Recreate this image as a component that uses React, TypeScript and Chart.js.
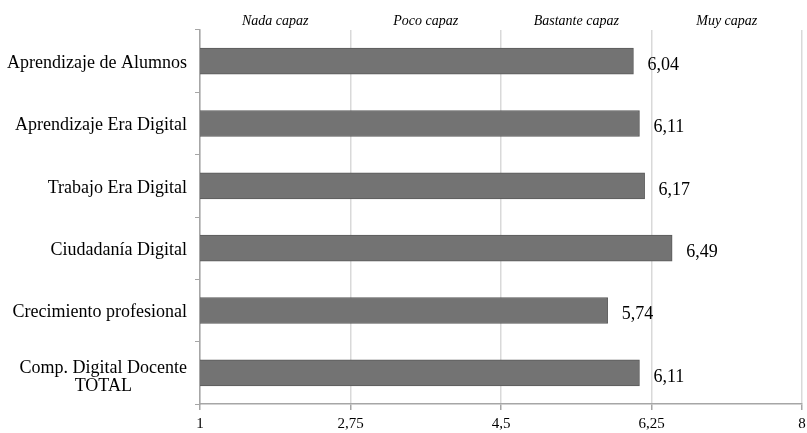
import React, { useEffect, useRef } from "react";
import { Chart, registerables } from "chart.js";

Chart.register(...registerables);

const categories: (string | string[])[] = [
  "Aprendizaje de Alumnos",
  "Aprendizaje Era Digital",
  "Trabajo Era Digital",
  "Ciudadanía Digital",
  "Crecimiento profesional",
  ["Comp. Digital Docente", "TOTAL"],
];
const values = [6.04, 6.11, 6.17, 6.49, 5.74, 6.11];
const xTicks = [1, 2.75, 4.5, 6.25, 8];
const levelLabels = ["Nada capaz", "Poco capaz", "Bastante capaz", "Muy capaz"];
const levelPositions = [1.875, 3.625, 5.375, 7.125];

const fmt = (v: number) => String(v).replace(".", ",");
const FONT = "'Liberation Serif', 'Times New Roman', serif";

const valueLabels = {
  id: "valueLabels",
  afterDatasetsDraw(chart: any) {
    const ctx = chart.ctx;
    const meta = chart.getDatasetMeta(0);
    ctx.save();
    ctx.font = `18px ${FONT}`;
    ctx.fillStyle = "#000";
    ctx.textAlign = "left";
    ctx.textBaseline = "middle";
    meta.data.forEach((el: any, i: number) => {
      ctx.fillText(fmt(values[i]), el.x + 14, el.y + 4);
    });
    ctx.restore();
  },
};

// Category labels: right-aligned blocks, multi-line blocks centred within themselves
const categoryLabels = {
  id: "categoryLabels",
  afterDraw(chart: any) {
    const ctx = chart.ctx;
    const scale = chart.scales.y;
    const right = chart.chartArea.left - 13;
    const lineH = 18;
    ctx.save();
    ctx.font = `18px ${FONT}`;
    ctx.fillStyle = "#000";
    ctx.textAlign = "center";
    ctx.textBaseline = "middle";
    categories.forEach((lab, i) => {
      const lines = Array.isArray(lab) ? lab : [lab];
      const w = Math.max(...lines.map((l) => ctx.measureText(l).width));
      const cx = right - w / 2;
      const yc = scale.getPixelForTick(i) + (lines.length > 1 ? 4 : 2);
      const y0 = yc - ((lines.length - 1) * lineH) / 2;
      lines.forEach((l, j) => ctx.fillText(l, cx, y0 + j * lineH));
    });
    ctx.restore();
  },
};

const noSidePadding = (scale: any) => {
  scale.paddingLeft = 0;
  scale.paddingRight = 0;
};

export default function App() {
  const ref = useRef<HTMLCanvasElement>(null);
  useEffect(() => {
    if (!ref.current) return;
    const chart = new Chart(ref.current, {
      type: "bar",
      data: {
        labels: categories as any,
        datasets: [
          {
            data: values,
            backgroundColor: "#737373",
            borderColor: "#5a5a5a",
            borderWidth: 1,
            barThickness: 26,
          },
        ],
      },
      options: {
        indexAxis: "y",
        animation: false,
        responsive: true,
        maintainAspectRatio: false,
        layout: { padding: { left: 0, right: 5, top: 0, bottom: 0 } },
        plugins: { legend: { display: false }, tooltip: { enabled: false } },
        scales: {
          x: {
            type: "linear",
            position: "bottom",
            min: 1,
            max: 8,
            afterBuildTicks: (scale: any) => {
              scale.ticks = xTicks.map((v) => ({ value: v }));
            },
            afterFit: (scale: any) => {
              scale.height = 29;
              noSidePadding(scale);
            },
            ticks: {
              callback: (v: any) => fmt(Number(v)),
              color: "#000",
              font: { family: FONT, size: 15 },
              padding: 5,
              maxRotation: 0,
            },
            grid: {
              color: "#d9d9d9",
              lineWidth: 1.5,
              tickLength: 6,
              tickColor: "#a6a6a6",
            },
            border: { color: "#a6a6a6", width: 1.5 },
          },
          x2: {
            type: "linear",
            position: "top",
            min: 1,
            max: 8,
            afterBuildTicks: (scale: any) => {
              scale.ticks = levelPositions.map((v) => ({ value: v }));
            },
            afterFit: (scale: any) => {
              scale.height = 30;
              noSidePadding(scale);
            },
            ticks: {
              callback: (_v: any, i: number) => levelLabels[i],
              color: "#000",
              font: { family: FONT, size: 14, style: "italic" },
              maxRotation: 0,
              padding: 0,
            },
            grid: { display: false, drawTicks: false },
            border: { display: false },
          },
          y: {
            afterFit: (scale: any) => {
              scale.width = 200;
            },
            ticks: {
              display: false,
            },
            grid: {
              drawOnChartArea: false,
              drawTicks: true,
              tickLength: 5,
              tickColor: "#a6a6a6",
              offset: true,
            },
            border: { color: "#a6a6a6", width: 1.5 },
          },
        },
      },
      plugins: [valueLabels, categoryLabels],
    });
    return () => chart.destroy();
  }, []);
  return (
    <div style={{ position: "fixed", left: 0, top: 0, width: 807, height: 433, background: "#fff" }}>
      <canvas ref={ref} />
    </div>
  );
}
